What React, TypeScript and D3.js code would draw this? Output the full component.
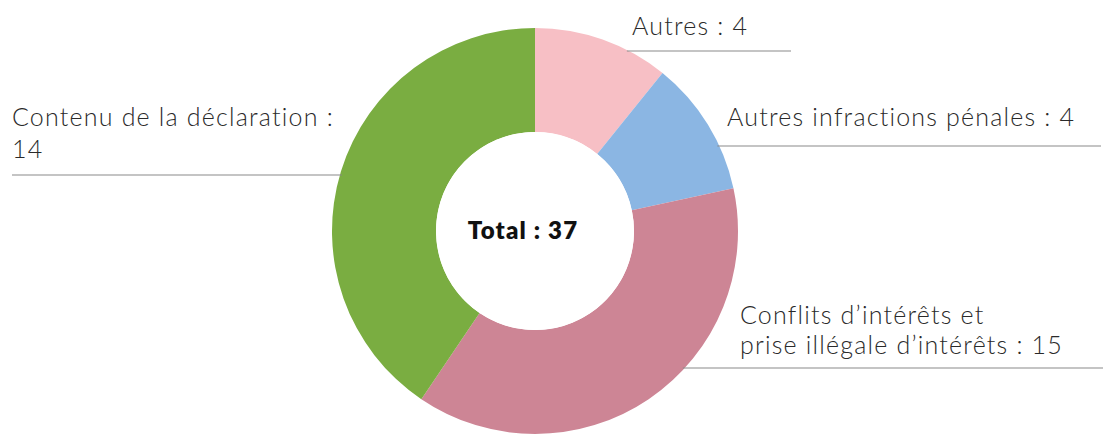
import React from "react";
import * as d3 from "d3";

const categories = ["Autres", "Autres infractions pénales", "Conflits d’intérêts et prise illégale d’intérêts", "Contenu de la déclaration"];
// slice sizes as drawn in the reference
const values = [4, 4, 14, 15];
// values as printed in the labels
const labelValues = [4, 4, 15, 14];
const colors = ["#F7BFC5", "#8BB6E3", "#CD8595", "#7AAD41"];
const labelLines = [
  ["Autres : " + labelValues[0]],
  ["Autres infractions pénales : " + labelValues[1]],
  ["Conflits d’intérêts et", "prise illégale d’intérêts : " + labelValues[2]],
  ["Contenu de la déclaration :", String(labelValues[3])],
];
const totalLabel = "Total : " + d3.sum(labelValues);

const W = 1103, H = 435;
const cx = 535, cy = 231, R = 203, r0 = 99;

// label layout: text x, first baseline, line gap, leader y, leader end x, side
const layout = [
  { x: 632, y: 35, gap: 30, ly: 51, side: "right", end: 791 },
  { x: 727, y: 126, gap: 30, ly: 146, side: "right", end: 1101 },
  { x: 740, y: 324, gap: 30, ly: 368, side: "right", end: 1103 },
  { x: 12, y: 126, gap: 32, ly: 175, side: "left", end: 12 },
];

export default function App() {
  const pie = d3.pie<number>().sort(null).value((d) => d);
  const arcs = pie(values);
  const arc = d3.arc<d3.PieArcDatum<number>>().innerRadius(r0).outerRadius(R);
  return (
    <svg width={W} height={H} style={{ position: "absolute", left: 0, top: 0, background: "#fff" }}
      fontFamily="Lato, 'Open Sans', sans-serif">
      <g transform={`translate(${cx},${cy})`}>
        {arcs.map((a, i) => (
          <path key={i} d={arc(a) || ""} fill={colors[i]}>
            <title>{categories[i]}</title>
          </path>
        ))}
        <circle r={r0} fill="#fff" />
        <text x={-12} y={8} textAnchor="middle" fontSize={24} fontWeight={800} letterSpacing={1.2} fill="#111">{totalLabel}</text>
      </g>
      {layout.map((l, i) => {
        const dy = l.ly - cy;
        const dx = Math.sqrt(Math.max(0, R * R - dy * dy));
        const edge = l.side === "right" ? cx + dx - 2 : cx - dx + 2;
        const x1 = l.side === "right" ? edge : l.end;
        const x2 = l.side === "right" ? l.end : edge;
        return (
          <g key={i}>
            <line x1={x1} x2={x2} y1={l.ly} y2={l.ly} stroke="#8a8a8a" strokeWidth={1.2} />
            <text x={l.x} y={l.y} fontSize={25} fontWeight={300} letterSpacing={1.2} fill="#2a2a2a">
              {labelLines[i].map((t, j) => (
                <tspan key={j} x={l.x} dy={j === 0 ? 0 : l.gap}>{t}</tspan>
              ))}
            </text>
          </g>
        );
      })}
    </svg>
  );
}
